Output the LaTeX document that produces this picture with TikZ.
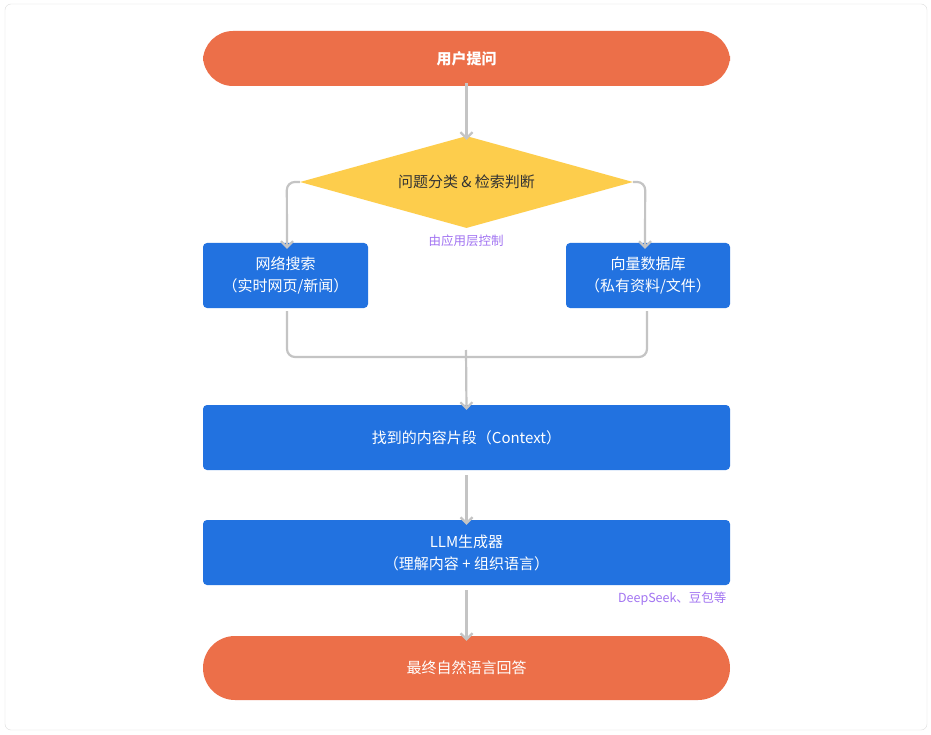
\documentclass[tikz,border=0pt]{standalone}
\usepackage{fontspec}
\setmainfont{Noto Sans CJK SC}
\usetikzlibrary{arrows.meta,shapes.geometric}
\definecolor{orangec}{HTML}{EC6F49}
\definecolor{bluec}{HTML}{2272E0}
\definecolor{yellowc}{HTML}{FDCD4C}
\definecolor{grayc}{HTML}{C4C4C4}
\definecolor{purplec}{HTML}{A274F2}
\definecolor{framec}{HTML}{DDDDDD}
\tikzset{
 pill/.style={fill=orangec,rounded corners=30pt,minimum width=527pt,minimum height=60pt,text=white,font=\fontsize{15}{18}\selectfont},
 bluebox/.style={fill=bluec,rounded corners=4pt,text=white,align=center,font=\fontsize{15}{22}\selectfont},
 conn/.style={draw=grayc,line width=2.2pt,-{Straight Barb[length=6pt,width=12pt]},rounded corners=8pt},
 plain/.style={draw=grayc,line width=2.2pt,rounded corners=8pt},
 note/.style={text=purplec,font=\fontsize{12.5}{14}\selectfont}
}
\begin{document}
\begin{tikzpicture}[x=1pt,y=-1pt]
\fill[white] (0,0) rectangle (931,735);
\draw[framec,rounded corners=6pt] (5,4) rectangle (927,730);
\node[pill,minimum height=55pt,font=\bfseries\fontsize{15}{18}\selectfont] (q) at (466.5,58.5) {用户提问};
\node[diamond,fill=yellowc,aspect=3.6,inner sep=0pt,minimum width=333pt,minimum height=92pt,font=\fontsize{15}{18}\selectfont,text=black!80] (d) at (466.5,182) {问题分类 \& 检索判断};
\node[note] (ctl) at (466,241) {由应用层控制};
\node[bluebox,minimum width=165pt,minimum height=65pt] (web) at (285.5,275.5) {网络搜索\\（实时网页/新闻）};
\node[bluebox,minimum width=164pt,minimum height=65pt] (vec) at (648,275.5) {向量数据库\\（私有资料/文件）};
\node[bluebox,minimum width=527pt,minimum height=65pt] (ctx) at (466.5,437.5) {找到的内容片段（Context）};
\node[bluebox,minimum width=527pt,minimum height=65pt] (llm) at (466.5,552.5) {LLM生成器\\（理解内容 + 组织语言）};
\node[note,anchor=east] (ds) at (730,599) {DeepSeek、豆包等};
\node[pill,minimum height=64pt,rounded corners=32pt] (ans) at (466.5,668) {最终自然语言回答};
\coordinate (m) at (466,357);
\draw[conn] ([yshift=3pt]q.south) -- ([yshift=-4pt]d.north);
\draw[conn] (d.west) -- ++(-13,0) -- ([yshift=-6pt]web.north -| 287,0);
\draw[conn] (d.east) -- ++(12,0) -- ([yshift=-6pt]vec.north -| 645,0);
\draw[plain] ([yshift=-3pt]web.south -| 287,0) |- (m);
\draw[plain] ([yshift=-3pt]vec.south -| 647,0) |- (m);
\draw[conn,rounded corners=0pt] (466,350) -- ([yshift=-5pt]ctx.north);
\draw[conn] ([yshift=-5pt]ctx.south) -- ([yshift=-5pt]llm.north);
\draw[conn] ([yshift=-5pt]llm.south) -- ([yshift=-5pt]ans.north);
\end{tikzpicture}
\end{document}
